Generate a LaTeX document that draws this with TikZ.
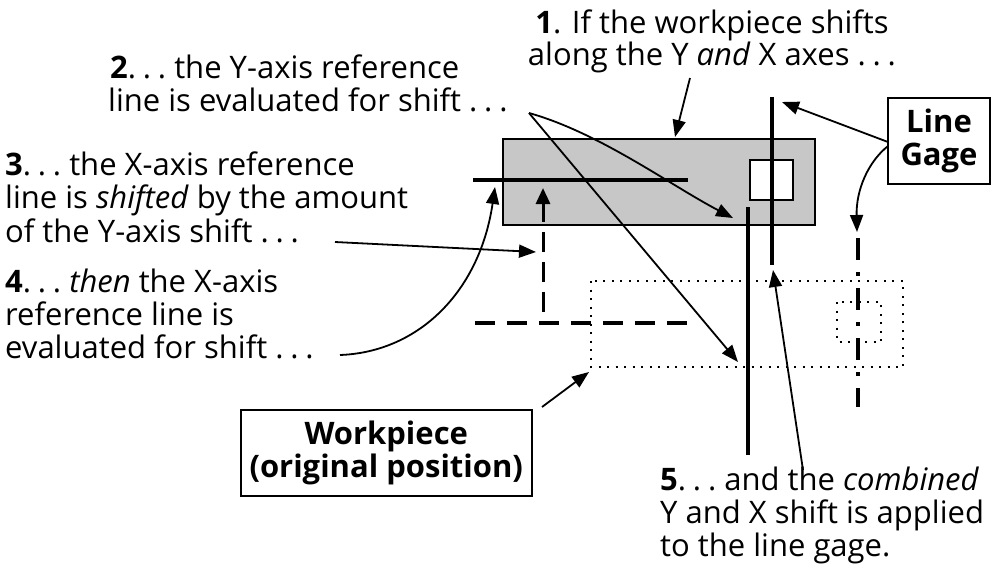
\documentclass[tikz,border=0pt]{standalone}
\usepackage{fontspec}
\setmainfont{Open Sans}
\usetikzlibrary{arrows.meta}
\newcommand{\dts}{.\hspace{0.22em}.\hspace{0.22em}.}
\begin{document}
\begin{tikzpicture}[x=1pt,y=-1pt,
  lbl/.style={inner sep=0pt,anchor=base west,font=\fontsize{31}{33}\selectfont},
  boxlbl/.style={draw,line width=2pt,align=center,inner xsep=9pt,inner ysep=0pt,font=\fontsize{31}{33}\selectfont\bfseries},
  heavy/.style={line width=4.5pt},
  lead/.style={line width=1.8pt,-{Triangle[length=17pt,width=13pt]}},
  dotline/.style={line width=2pt,dash pattern=on 2pt off 6.5pt},
]
\useasboundingbox (0,0) rectangle (993,571);

% current workpiece (shifted)
\draw[line width=2.5pt,fill=black!22] (503,139) rectangle (815,225);
\draw[line width=2.5pt,fill=white] (750,160) rectangle (793,200);
% original workpiece
\draw[dotline] (591,281) rectangle (903,367);
\draw[dotline] (837,302) rectangle (881,342);

% reference lines
\draw[heavy] (473,180) -- (688,180);
\draw[heavy] (748,207) -- (748,455);
\draw[heavy] (772,97) -- (772,265);
\draw[heavy,dash pattern=on 20pt off 12pt] (475,323) -- (688,323);
\draw[line width=3pt,dash pattern=on 20pt off 10pt] (543,312) -- (543,203);
\draw[line width=3pt,-{Triangle[length=16pt,width=14pt]}] (543,205) -- (543,188);
\draw[heavy,dash pattern=on 22pt off 12pt on 4pt off 12pt] (858,238) -- (858,407);

% texts
\node[lbl,anchor=base] (t1a) at (712,33) {{\bfseries 1}. If the workpiece shifts};
\node[lbl,anchor=base] (t1b) at (712,65) {along the Y \textit{and} X axes \dts};
\node[lbl] (t2a) at (110,78) {{\bfseries 2}\dts\ the Y-axis reference};
\node[lbl] (t2b) at (108,111) {line is evaluated for shift \dts};
\node[lbl] (t3a) at (5,175) {{\bfseries 3}\dts\ the X-axis reference};
\node[lbl] (t3b) at (5,208) {line is \textit{shifted} by the amount};
\node[lbl] (t3c) at (5,242) {of the Y-axis shift \dts};
\node[lbl] (t4a) at (5,292) {{\bfseries 4}\dts\ \textit{then} the X-axis};
\node[lbl] (t4b) at (5,325) {reference line is};
\node[lbl] (t4c) at (5,358) {evaluated for shift \dts};
\node[lbl] (t5a) at (660,490) {{\bfseries 5}\dts\ and the \textit{combined}};
\node[lbl] (t5b) at (660,523) {Y and X shift is applied};
\node[lbl] (t5c) at (660,556) {to the line gage.};

\node[boxlbl,anchor=north east,minimum width=102pt,minimum height=86pt] (lg) at (991,97) {Line\\Gage};
\node[boxlbl,anchor=north east,minimum height=86pt] (wp) at (533,409) {Workpiece\\(original position)};

% connector end points
\coordinate (a1s) at (690,78);   \coordinate (a1e) at (675,137);
\coordinate (a2s) at (529,113);
\coordinate (a2e) at (733,218);  \coordinate (a2f) at (738,362);
\coordinate (a3s) at (335,242);  \coordinate (a3e) at (536,252);
\coordinate (a4s) at (340,355);  \coordinate (a4e) at (495,187);
\coordinate (a5s) at (803,470);  \coordinate (a5e) at (773,270);
\coordinate (g1s) at (888,142);  \coordinate (g1e) at (782,102);
\coordinate (g2s) at (888,146);  \coordinate (g2e) at (857,232);
\coordinate (w1s) at (542,407);  \coordinate (w1e) at (589,372);

\draw[lead] (a1s) -- (a1e);
\draw[lead] (a2s) .. controls (600,133) and (670,185) .. (a2e);
\draw[lead] (a2s) -- (a2f);
\draw[lead] (a3s) -- (a3e);
\draw[lead] (a4s) .. controls (420,352) and (480,290) .. (a4e);
\draw[lead] (a5s) -- (a5e);
\draw[lead] (g1s) -- (g1e);
\draw[lead] (g2s) .. controls (868,162) and (856,190) .. (g2e);
\draw[lead] (w1s) -- (w1e);
\end{tikzpicture}
\end{document}
